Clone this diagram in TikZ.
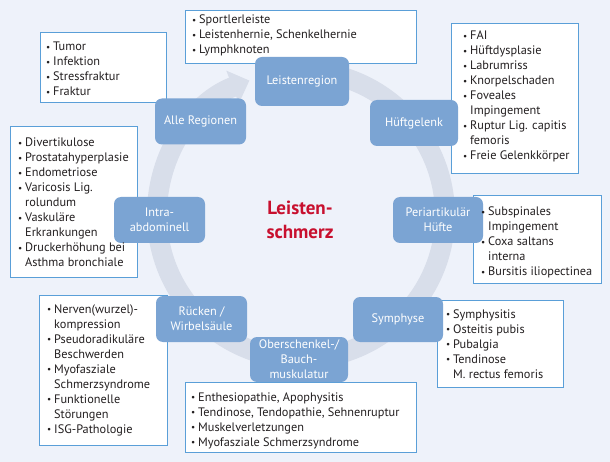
\documentclass[tikz,border=0pt]{standalone}
\usepackage{fontspec}
\setmainfont{PT Sans}
\usetikzlibrary{arrows.meta}
\definecolor{bgc}{HTML}{EEF2FA}
\definecolor{ringc}{HTML}{D8DEEA}
\definecolor{nodeblue}{HTML}{7BA4D3}
\definecolor{framec}{HTML}{5A9FD8}
\definecolor{titlered}{HTML}{C8102E}
\definecolor{textc}{HTML}{231F20}
\newcommand\listfont{\fontsize{12.3}{15}\selectfont}
\newcommand\blt{\makebox[7pt][l]{\raisebox{0.6pt}{\scalebox{0.75}{•}}}}
\begin{document}
\begin{tikzpicture}[x=1pt,y=-1pt,
  region/.style={fill=nodeblue, rounded corners=7pt, text=white, font=\listfont,
    align=center, minimum width=91pt, minimum height=46pt, inner sep=2pt},
  frame/.style={draw=framec, line width=1.1pt, fill=white, anchor=north west, inner sep=0pt},
  listtext/.style={anchor=base west, inner sep=0pt, text=textc, font=\listfont},
  titletext/.style={anchor=base, inner sep=0pt, text=titlered,
    font=\fontsize{19}{24}\selectfont\bfseries}]
\useasboundingbox (0,0) rectangle (610,462);
\fill[bgc] (0,0) rectangle (610,462);

% ring arrow
\coordinate (rc) at (301,215);
\draw[ringc, line width=20pt, -{Triangle[width=34pt,length=18pt]}]
  (rc) ++(-100:144) arc[start angle=-100, end angle=249, radius=144];

% frames
\node[frame, minimum width=126pt, minimum height=70pt]  (fAlle)    at (40,32)   {};
\node[frame, minimum width=231pt, minimum height=53pt]  (fLeisten) at (185,10)  {};
\node[frame, minimum width=127pt, minimum height=150pt] (fHuefte)  at (451,23)  {};
\node[frame, minimum width=127pt, minimum height=151pt] (fIntra)   at (10,126)  {};
\node[frame, minimum width=128pt, minimum height=88pt]  (fPeri)    at (473,195) {};
\node[frame, minimum width=128pt, minimum height=150pt] (fRuecken) at (39,295)  {};
\node[frame, minimum width=231pt, minimum height=70pt]  (fOber)    at (185,382) {};
\node[frame, minimum width=126pt, minimum height=87pt]  (fSymph)   at (437,300) {};

% region nodes
\node[region, minimum width=94pt, minimum height=49pt] (nLeisten) at (302,81.5) {Leistenregion};
\node[region] (nAlle) at (200.5,121.5) {Alle Regionen};
\node[region, minimum width=88pt] (nHuefte) at (414,123) {Hüftgelenk};
\node[region] (nIntra) at (159.5,220) {Intra-\\abdominell};
\node[region, minimum width=90pt] (nPeri) at (438,220) {Periartikulär\\Hüfte};
\node[region] (nRuecken) at (201.5,319) {Rücken /\\Wirbelsäule};
\node[region, minimum width=98pt, minimum height=45pt, inner ysep=0pt] (nOber) at (299,359.5) {Oberschenkel-/\\Bauch-\\muskulatur};
\node[region, minimum width=90pt, minimum height=45pt] (nSymph) at (398,319.5) {Symphyse};

% list texts
\node[listtext] (tAlle) at (46,51) {\begin{tabular}[t]{@{}l@{}l@{}}
\blt&Tumor\\ \blt&Infektion\\ \blt&Stressfraktur\\ \blt&Fraktur\end{tabular}};
\node[listtext] (tLeisten) at (192,24) {\begin{tabular}[t]{@{}l@{}l@{}}
\blt&Sportlerleiste\\ \blt&Leistenhernie, Schenkelhernie\\ \blt&Lymphknoten\end{tabular}};
\node[listtext] (tHuefte) at (463,40) {\begin{tabular}[t]{@{}l@{}l@{}}
\blt&FAI\\ \blt&Hüftdysplasie\\ \blt&Labrumriss\\ \blt&Knorpelschaden\\
\blt&Foveales\\ &Impingement\\ \blt&Ruptur Lig. capitis\\ &femoris\\
\blt&Freie Gelenkkörper\end{tabular}};
\node[listtext] (tIntra) at (18,147) {\begin{tabular}[t]{@{}l@{}l@{}}
\blt&Divertikulose\\ \blt&Prostatahyperplasie\\ \blt&Endometriose\\
\blt&Varicosis Lig.\\ &rolundum\\ \blt&Vaskuläre\\ &Erkrankungen\\
\blt&Druckerhöhung bei\\ &Asthma bronchiale\end{tabular}};
\node[listtext] (tPeri) at (481,216) {\begin{tabular}[t]{@{}l@{}l@{}}
\blt&Subspinales\\ &Impingement\\ \blt&Coxa saltans\\ &interna\\
\blt&Bursitis iliopectinea\end{tabular}};
\node[listtext] (tRuecken) at (47,313) {\begin{tabular}[t]{@{}l@{}l@{}}
\blt&Nerven(wurzel)-\\ &kompression\\ \blt&Pseudoradikuläre\\ &Beschwerden\\
\blt&Myofasziale\\ &Schmerzsyndrome\\ \blt&Funktionelle\\ &Störungen\\
\blt&ISG-Pathologie\end{tabular}};
\node[listtext] (tOber) at (191,401) {\begin{tabular}[t]{@{}l@{}l@{}}
\blt&Enthesiopathie, Apophysitis\\ \blt&Tendinose, Tendopathie, Sehnenruptur\\
\blt&Muskelverletzungen\\ \blt&Myofasziale Schmerzsyndrome\end{tabular}};
\node[listtext] (tSymph) at (446,318) {\begin{tabular}[t]{@{}l@{}l@{}}
\blt&Symphysitis\\ \blt&Osteitis pubis\\ \blt&Pubalgia\\ \blt&Tendinose\\
&M. rectus femoris\end{tabular}};

% title
\node[titletext] (title) at (300,215) {\begin{tabular}[t]{@{}c@{}}Leisten-\\schmerz\end{tabular}};
\end{tikzpicture}
\end{document}
